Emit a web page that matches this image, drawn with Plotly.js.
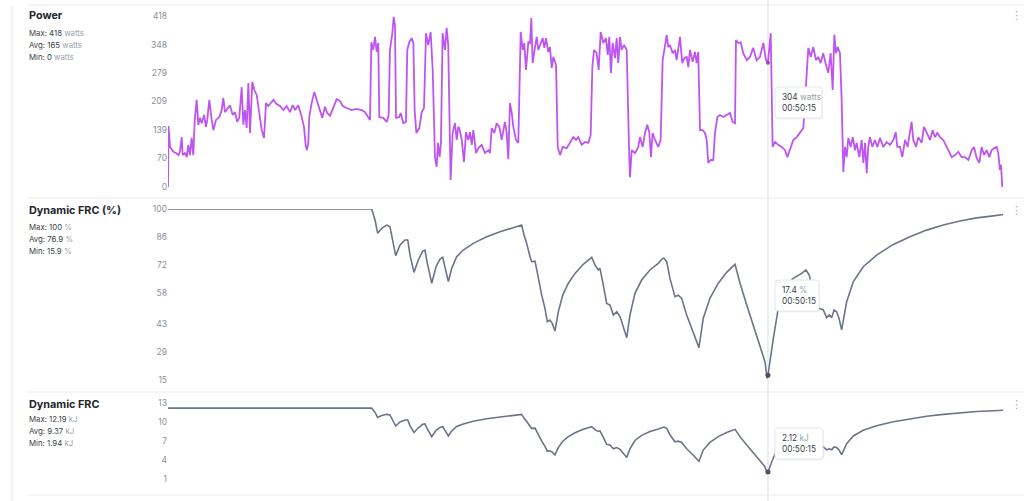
<!DOCTYPE html>
<html>
<head>
<meta charset="utf-8">
<script src="https://cdn.plot.ly/plotly-3.0.1.min.js"></script>
<style>
  html, body { margin: 0; padding: 0; background: #fff; }
  #chart { width: 1024px; height: 501px; }
</style>
</head>
<body>
<div id="chart"></div>
<script>
// ---------- DATA ----------
const powerTimeMin = [0.00,0.04,0.17,0.33,0.45,0.67,0.87,1.00,1.15,1.23,1.42,1.57,1.70,1.84,1.98,2.12,2.24,2.40,2.54,2.68,2.82,3.02,3.18,3.29,3.46,3.66,3.80,4.02,4.30,4.50,4.63,4.77,5.00,5.19,5.42,5.61,5.80,5.97,6.17,6.31,6.45,6.59,6.73,6.87,7.06,7.23,7.43,7.65,7.85,8.04,8.21,8.40,8.63,8.82,9.10,9.38,9.66,9.94,10.22,10.44,10.64,10.91,11.20,11.39,11.53,11.64,11.75,11.83,12.03,12.25,12.45,12.73,12.92,13.15,13.34,13.57,13.84,14.13,14.41,14.63,14.97,15.39,15.80,16.22,16.50,16.78,16.92,17.03,17.19,17.34,17.48,17.61,17.70,18.03,18.32,18.48,18.59,18.79,18.90,19.01,19.10,19.37,19.49,19.71,19.93,20.04,20.21,20.41,20.55,20.66,20.80,21.05,21.25,21.44,21.61,21.80,22.00,22.17,22.36,22.50,22.61,22.75,22.86,23.00,23.20,23.34,23.47,23.67,23.84,24.03,24.18,24.31,24.40,24.60,24.79,24.96,25.15,25.29,25.44,25.57,25.80,25.99,26.27,26.55,26.83,26.97,27.11,27.33,27.53,27.75,27.95,28.22,28.37,28.50,28.64,28.79,28.92,29.15,29.34,29.54,29.71,29.84,29.98,30.18,30.32,30.43,30.54,30.74,30.88,31.01,31.21,31.38,31.52,31.66,31.85,31.99,32.14,32.27,32.50,32.64,32.83,33.06,33.39,33.67,33.95,34.17,34.36,34.65,34.92,35.20,35.40,35.54,35.68,35.90,36.07,36.24,36.46,36.68,36.83,36.96,37.10,37.24,37.44,37.58,37.71,37.86,38.00,38.19,38.42,38.61,38.69,38.84,39.11,39.39,39.53,39.76,39.95,40.14,40.31,40.45,40.59,40.79,41.06,41.26,41.43,41.57,41.77,41.90,42.04,42.27,42.46,42.60,42.74,42.88,43.07,43.24,43.44,43.58,43.72,43.94,44.14,44.28,44.41,44.56,44.78,44.97,45.12,45.25,45.45,45.67,45.81,46.01,46.23,46.51,46.79,47.07,47.29,47.49,47.57,47.76,47.96,48.18,48.47,48.74,49.02,49.30,49.58,49.86,50.08,50.25,50.48,50.56,50.64,50.84,51.11,51.40,51.68,51.87,52.09,52.37,52.66,52.93,53.21,53.41,53.63,53.83,54.05,54.27,54.46,54.66,54.88,55.11,55.30,55.50,55.67,55.81,55.95,56.09,56.28,56.42,56.56,56.70,56.84,56.98,57.18,57.35,57.54,57.68,57.90,58.10,58.24,58.38,58.52,58.65,58.79,58.99,59.21,59.41,59.63,59.91,60.19,60.47,60.75,60.95,61.08,61.31,61.50,61.73,61.95,62.14,62.28,62.42,62.65,62.84,63.12,63.32,63.54,63.82,64.04,64.24,64.43,64.66,64.93,65.22,65.43,65.64,65.91,66.19,66.47,66.75,67.03,67.31,67.50,67.73,67.95,68.15,68.34,68.56,68.79,68.98,69.21,69.41,69.54,69.68,69.77,69.87];
const powerWatts = [0,149,98,90,86,83,78,86,122,78,83,73,103,78,120,78,164,213,152,169,156,176,147,164,213,164,139,164,171,188,218,183,193,200,176,183,159,169,244,152,188,144,254,132,257,237,225,183,139,120,205,198,205,213,203,198,188,198,183,200,188,200,171,147,103,90,108,171,205,232,213,188,169,196,181,174,196,215,210,198,193,188,191,188,183,171,164,354,335,367,330,352,171,169,159,176,335,376,416,396,169,171,181,156,159,335,354,364,352,188,132,144,183,193,376,347,379,286,73,49,108,73,108,376,335,389,347,17,132,156,115,147,144,115,61,134,115,134,103,139,83,95,103,83,90,83,144,132,156,147,115,159,132,68,205,181,147,115,108,379,335,352,286,354,352,413,303,342,367,335,352,364,340,364,330,342,291,318,298,98,78,98,95,108,122,115,122,103,110,108,127,293,335,327,286,379,352,364,323,367,279,352,315,364,303,367,335,347,335,98,24,90,83,98,122,98,132,152,134,73,132,115,98,115,310,335,372,342,347,327,335,310,335,367,303,315,318,293,335,306,330,303,330,139,139,132,115,59,66,66,132,171,176,171,176,181,159,156,359,352,354,327,310,318,340,310,318,352,310,304,376,269,98,110,103,98,90,73,90,115,122,132,144,237,340,318,342,310,318,303,327,298,279,327,237,372,327,342,327,213,37,98,73,120,98,122,90,108,73,115,59,108,34,98,122,98,115,98,120,98,110,103,115,134,98,98,73,115,98,134,159,115,98,122,108,147,132,115,139,122,132,122,115,98,83,73,78,86,73,73,66,90,98,71,59,98,78,90,73,90,95,98,83,42,54,0];

const frcTimeMin = [0.00,17.06,17.34,17.56,17.90,18.32,18.59,18.82,19.07,19.43,19.85,20.08,20.27,20.60,20.96,21.33,21.52,21.72,22.09,22.45,22.78,23.01,23.20,23.48,23.76,24.18,24.73,25.57,26.69,27.81,28.92,29.62,29.82,30.04,30.32,30.46,30.74,31.01,31.30,31.57,31.77,31.99,32.19,32.41,32.69,33.06,33.53,34.09,34.78,35.49,35.76,36.04,36.18,36.46,36.74,37.02,37.30,37.58,37.86,38.13,38.42,38.69,39.11,39.67,40.37,41.06,41.43,41.54,41.77,42.04,42.46,42.74,43.02,43.44,44.00,44.47,44.83,45.39,46.09,46.79,47.49,47.91,48.47,49.02,49.58,50.00,50.17,50.25,50.70,51.11,51.68,52.37,53.07,53.43,53.71,54.02,54.33,54.55,54.88,55.17,55.39,55.59,55.78,56.00,56.20,56.42,56.84,57.40,58.23,59.35,60.75,62.14,63.54,64.93,66.33,67.73,69.12,69.96];
const frcPercent = [100,100,94.5,87.9,90.4,92.0,91.2,83.7,76.8,82.1,84.6,84.6,77.1,68.5,74.6,79.1,79.6,73.0,63.1,71.3,75.1,76.0,70.5,63.9,70.5,76.3,79.6,82.9,86.2,88.7,90.7,92.0,87.1,82.9,76.3,73.8,74.1,65.5,57.2,50.6,44.0,44.8,43.0,39.4,48.9,57.2,63.1,68.0,72.5,76.0,72.2,69.7,70.5,62.2,53.1,52.3,47.3,48.9,46.5,41.5,36.0,47.3,58.1,64.7,69.7,73.0,75.5,75.5,73.8,65.5,56.4,57.2,55.6,47.3,39.0,31.1,45.7,55.6,63.1,68.5,72.5,63.1,52.3,42.3,32.4,24.1,15.9,17.4,35.7,50.6,61.4,65.5,68.0,69.7,67.2,58.0,52.3,50.6,49.8,46.0,47.3,46.0,49.8,48.9,45.7,39.9,53.9,63.9,71.3,77.1,82.4,86.2,89.5,92.0,94.0,95.6,96.6,97.3];
const frcKJ = [12.19,12.19,11.52,10.72,11.02,11.21,11.12,10.20,9.36,10.01,10.31,10.31,9.40,8.35,9.09,9.64,9.70,8.90,7.69,8.69,9.15,9.26,8.59,7.79,8.59,9.30,9.70,10.11,10.51,10.81,11.06,11.21,10.62,10.11,9.30,9.00,9.03,7.98,6.97,6.17,5.36,5.46,5.24,4.80,5.96,6.97,7.69,8.29,8.84,9.26,8.80,8.50,8.59,7.58,6.47,6.38,5.77,5.96,5.67,5.06,4.39,5.77,7.08,7.89,8.50,8.90,9.20,9.20,9.00,7.98,6.88,6.97,6.78,5.77,4.75,3.79,5.57,6.78,7.69,8.35,8.84,7.69,6.38,5.16,3.95,2.94,1.94,2.12,4.35,6.17,7.48,7.98,8.29,8.50,8.19,7.07,6.38,6.17,6.07,5.61,5.77,5.61,6.07,5.96,5.57,4.86,6.57,7.79,8.69,9.40,10.04,10.51,10.91,11.21,11.46,11.65,11.78,11.86];

const powerTicks = [0, 70, 139, 209, 279, 348, 418];
const pctTicks = [15, 29, 43, 58, 72, 86, 100];
const kjTicks = [1, 4, 7, 10, 13];

const panelTitles = ["Power", "Dynamic FRC (%)", "Dynamic FRC"];
const panelUnits = ["watts", "%", "kJ"];
const statMax = ["418", "100", "12.19"];
const statAvg = ["165", "76.9", "9.37"];
const statMin = ["0", "15.9", "1.94"];

const cursorTimeMin = 50.25;
const cursorLabel = "00:50:15";
const cursorValues = [304, 17.4, 2.12];
const cursorText = ["304", "17.4", "2.12"];

// ---------- LAYOUT HELPERS ----------
const W = 1024, H = 501;
const px = x => x / W;
const py = y => 1 - y / H;

const purple = "#bf55f0";
const slate = "#6c7489";
const dark = "#22262e";
const muted = "#9aa0aa";
const fontFam = "Inter, 'Noto Sans', sans-serif";

const xdom = [px(168), px(1003.3)];
const xr = [0, 69.96];

const traces = [
  { x: powerTimeMin, y: powerWatts, xaxis: "x", yaxis: "y", mode: "lines",
    line: { color: purple, width: 1.8 }, hoverinfo: "skip" },
  { x: frcTimeMin, y: frcPercent, xaxis: "x2", yaxis: "y2", mode: "lines",
    line: { color: slate, width: 1.6 }, hoverinfo: "skip" },
  { x: frcTimeMin, y: frcKJ, xaxis: "x3", yaxis: "y3", mode: "lines",
    line: { color: slate, width: 1.6 }, hoverinfo: "skip" },
  { x: [cursorTimeMin], y: [cursorValues[0]], xaxis: "x", yaxis: "y", mode: "markers",
    marker: { color: "#9a45c8", size: 4 }, hoverinfo: "skip" },
  { x: [cursorTimeMin], y: [cursorValues[1]], xaxis: "x2", yaxis: "y2", mode: "markers",
    marker: { color: "#4b5263", size: 5 }, hoverinfo: "skip" },
  { x: [cursorTimeMin], y: [cursorValues[2]], xaxis: "x3", yaxis: "y3", mode: "markers",
    marker: { color: "#4b5263", size: 5 }, hoverinfo: "skip" }
];

function xAxis(anchor) {
  return { domain: xdom, range: xr, visible: false, showgrid: false, zeroline: false, fixedrange: true, anchor: anchor };
}
function yAxis(dom, range, ticks, anchor) {
  return {
    domain: dom, range: range, tickvals: ticks, ticktext: ticks.map(String),
    showgrid: false, zeroline: false, showline: false, ticks: "",
    tickfont: { family: fontFam, size: 8.5, color: "#8c9099" },
    anchor: anchor, fixedrange: true
  };
}

const panelTop = [16, 210, 404];        // pixel y of title lines
const statTop = [33, 227, 419];

const annotations = [];
for (let i = 0; i < 3; i++) {
  annotations.push({
    xref: "paper", yref: "paper", x: px(27), y: py(panelTop[i]), xanchor: "left", yanchor: "middle",
    text: "<b>" + panelTitles[i] + "</b>", showarrow: false,
    font: { family: fontFam, size: 10.8, color: dark }
  });
  const lines = [["Max", statMax[i]], ["Avg", statAvg[i]], ["Min", statMin[i]]];
  lines.forEach((l, j) => {
    annotations.push({
      xref: "paper", yref: "paper", x: px(27), y: py(statTop[i] + j * 12.2), xanchor: "left", yanchor: "middle",
      text: l[0] + ": " + l[1] + " <span style='color:" + muted + "'>" + panelUnits[i] + "</span>",
      showarrow: false, font: { family: fontFam, size: 7.8, color: "#3a3f48" }
    });
  });
  annotations.push({
    xref: "paper", yref: "paper", x: px(1016), y: py(panelTop[i]), xanchor: "center", yanchor: "middle",
    text: "⋮", showarrow: false, font: { family: "DejaVu Sans", size: 11, color: "#a0a4ab" }
  });
}

const sepColor = "#ececee";
const shapes = [
  { type: "line", xref: "paper", yref: "paper", x0: px(12), x1: px(12), y0: 0, y1: py(5), line: { color: sepColor, width: 1 } },
  { type: "line", xref: "x", yref: "paper", x0: cursorTimeMin, x1: cursorTimeMin, y0: 0, y1: 1, line: { color: "#dcdde0", width: 1 }, layer: "below" }
];
[5, 198, 392, 495].forEach(y => {
  shapes.push({ type: "line", xref: "paper", yref: "paper", x0: px(28), x1: 1, y0: py(y), y1: py(y), line: { color: sepColor, width: 1 } });
});

// tooltips: rounded boxes (pixel sized) + text
const tipTop = [87, 280, 428];
const tipW = [47, 44, 48];
const tipH = 31;
function roundRect(x0, y0, w, h, r) {
  // pixel offsets, y up
  const x1 = x0 + w, y1 = y0 - h;
  return `M${x0 + r},${y0} L${x1 - r},${y0} Q${x1},${y0} ${x1},${y0 - r} L${x1},${y1 + r} Q${x1},${y1} ${x1 - r},${y1} ` +
         `L${x0 + r},${y1} Q${x0},${y1} ${x0},${y1 + r} L${x0},${y0 - r} Q${x0},${y0} ${x0 + r},${y0} Z`;
}
for (let i = 0; i < 3; i++) {
  const xr_ = "x" + (i === 0 ? "" : (i + 1));
  shapes.push({
    type: "path", xref: xr_, yref: "paper", xsizemode: "pixel", ysizemode: "pixel",
    xanchor: cursorTimeMin, yanchor: py(tipTop[i]),
    path: roundRect(8, -1.5, tipW[i], tipH, 3),
    fillcolor: "rgba(0,0,0,0.05)", line: { width: 0 }, layer: "above"
  });
  shapes.push({
    type: "path", xref: xr_, yref: "paper", xsizemode: "pixel", ysizemode: "pixel",
    xanchor: cursorTimeMin, yanchor: py(tipTop[i]),
    path: roundRect(7, 0, tipW[i], tipH, 3),
    fillcolor: "#ffffff", line: { color: "#e4e6ea", width: 1 }, layer: "above"
  });
  annotations.push({
    xref: xr_, yref: "paper", x: cursorTimeMin, xshift: 12,
    y: py(tipTop[i] + tipH / 2), xanchor: "left", yanchor: "middle", align: "left",
    text: cursorText[i] + " <span style='color:" + muted + "'>" + panelUnits[i] + "</span><br>" + cursorLabel,
    showarrow: false, font: { family: fontFam, size: 8.3, color: "#3a3f48" }
  });
}

const layout = {
  width: W, height: H,
  margin: { l: 0, r: 0, t: 0, b: 0 },
  paper_bgcolor: "#ffffff", plot_bgcolor: "rgba(0,0,0,0)",
  showlegend: false,
  xaxis: xAxis("y"), xaxis2: xAxis("y2"), xaxis3: xAxis("y3"),
  yaxis: yAxis([py(187), py(16)], [0, 418], powerTicks, "x"),
  yaxis2: yAxis([py(380), py(209)], [15, 100], pctTicks, "x2"),
  yaxis3: yAxis([py(479), py(403)], [1, 13], kjTicks, "x3"),
  annotations: annotations,
  shapes: shapes,
  font: { family: fontFam }
};

Plotly.newPlot("chart", traces, layout, { displayModeBar: false, staticPlot: true });
</script>
</body>
</html>
